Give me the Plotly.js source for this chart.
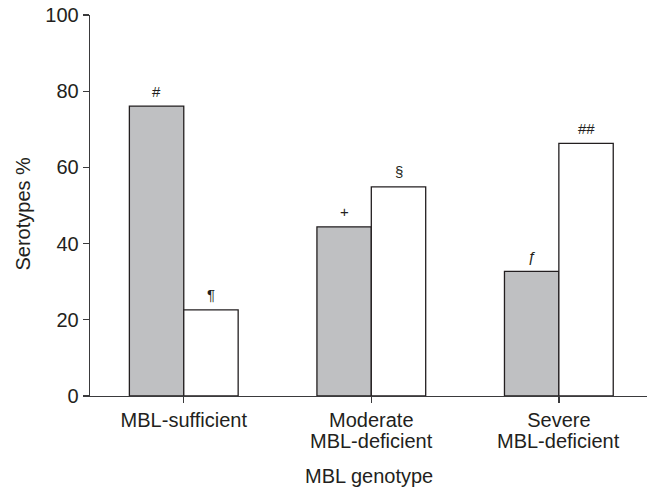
<!DOCTYPE html>
<html>
<head>
<meta charset="utf-8">
<script src="https://cdn.plot.ly/plotly-3.0.1.min.js"></script>
<style>html,body{margin:0;padding:0;background:#fff}#chart{width:647px;height:489px}</style>
</head>
<body>
<div id="chart"></div>
<script>
var categories = ["MBL-sufficient", "Moderate<br>MBL-deficient", "Severe<br>MBL-deficient"];
var grayValues = [76.1, 44.4, 32.7];
var whiteValues = [22.6, 54.9, 66.3];
var grayMarks = ["#", "+", "ƒ"];
var whiteMarks = ["¶", "§", "##"];
var yTicks = [0, 20, 40, 60, 80, 100];
var xTitle = "MBL genotype";
var yTitle = "Serotypes %";

var ink = "#231f20";
var axisInk = "#3a3a3c";
var fam = "Liberation Sans, Arial, sans-serif";
var font = {family: fam, size: 20, color: ink};

var traces = [
  {type: "bar", x: [0, 1, 2], y: grayValues, marker: {color: "#bfc0c2", line: {color: ink, width: 1.3}}, showlegend: false, hoverinfo: "skip"},
  {type: "bar", x: [0, 1, 2], y: whiteValues, marker: {color: "#ffffff", line: {color: ink, width: 1.3}}, showlegend: false, hoverinfo: "skip"}
];

var bargap = 0.42;
var half = (1 - bargap) / 4;
var annotations = [];
var firstLines = [];
for (var i = 0; i < categories.length; i++) {
  var parts = categories[i].split("<br>");
  firstLines.push(parts[0]);
  if (parts.length > 1) {
    annotations.push({x: i, y: 0, xref: "x", yref: "paper", text: parts[1], showarrow: false, yanchor: "middle", yshift: -45, font: font});
  }
  annotations.push({x: i - half, y: grayValues[i], xref: "x", yref: "y", text: grayMarks[i], showarrow: false, yanchor: "middle", yshift: 15, font: {family: fam, size: 15, color: ink}});
  annotations.push({x: i + half, y: whiteValues[i], xref: "x", yref: "y", text: whiteMarks[i], showarrow: false, yanchor: "middle", yshift: 15, font: {family: fam, size: 15, color: ink}});
}
annotations.push({x: 0.5, y: 0, xref: "paper", yref: "paper", xanchor: "center", yanchor: "middle", yshift: -80, text: xTitle, showarrow: false, font: font});
annotations.push({x: 0, y: 0.5, xref: "paper", yref: "paper", xanchor: "center", yanchor: "middle", xshift: -68, yshift: -8, textangle: -90, text: yTitle, showarrow: false, font: font});

var layout = {
  width: 647, height: 489,
  margin: {l: 90, r: 0, t: 15, b: 93},
  paper_bgcolor: "#fff", plot_bgcolor: "#fff",
  font: font,
  bargap: bargap, bargroupgap: 0, barmode: "group",
  xaxis: {
    type: "linear", range: [-0.5, 2.47],
    tickmode: "array", tickvals: [0, 1, 2], ticktext: firstLines,
    showline: true, linecolor: axisInk, linewidth: 1.3,
    ticks: "outside", ticklen: 6, tickcolor: axisInk, tickwidth: 1.3,
    showgrid: false, zeroline: false, tickfont: font
  },
  yaxis: {
    range: [0, 100], tickvals: yTicks,
    showline: true, linecolor: axisInk, linewidth: 1.3,
    ticks: "outside", ticklen: 6, tickcolor: axisInk, tickwidth: 1.3,
    showgrid: false, zeroline: false, tickfont: font
  },
  annotations: annotations
};

Plotly.newPlot("chart", traces, layout, {displayModeBar: false, staticPlot: true});
</script>
</body>
</html>
